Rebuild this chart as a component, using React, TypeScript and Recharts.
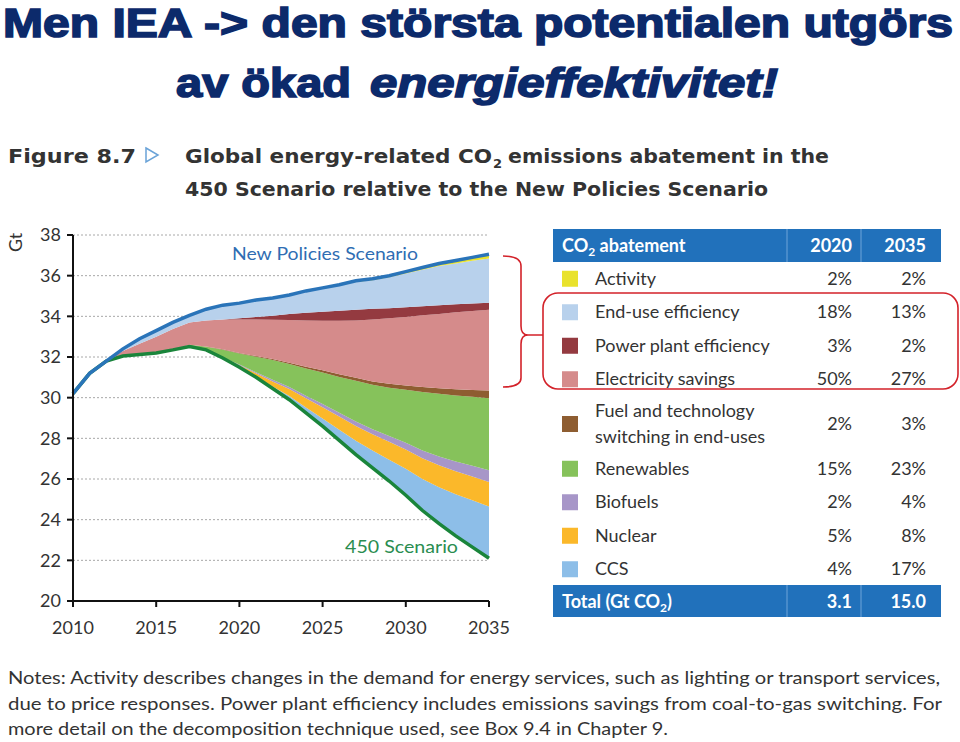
import React from "react";
import {
  ComposedChart,
  Area,
  Line,
  XAxis,
  YAxis,
  CartesianGrid,
} from "recharts";

// years on the x axis
const years = [
  2010, 2011, 2012, 2013, 2014, 2015, 2016, 2017, 2018, 2019, 2020, 2021, 2022,
  2023, 2024, 2025, 2026, 2027, 2028, 2029, 2030, 2031, 2032, 2033, 2034, 2035,
];

// Gt CO2
const scenario450 = [
  30.2, 31.2, 31.8, 32.05, 32.12, 32.2, 32.35, 32.52, 32.35, 31.95, 31.5, 31.0,
  30.45, 29.9, 29.25, 28.6, 27.9, 27.2, 26.55, 25.9, 25.2, 24.45, 23.8, 23.2,
  22.65, 22.1,
];
const newPolicies = [
  30.2, 31.2, 31.8, 32.4, 32.9, 33.3, 33.7, 34.05, 34.35, 34.55, 34.65, 34.8,
  34.9, 35.05, 35.25, 35.4, 35.55, 35.75, 35.85, 36.0, 36.2, 36.4, 36.6, 36.75,
  36.9, 37.05,
];

// abatement wedges (thickness, Gt), bottom to top
const ccs = [
  0, 0, 0, 0, 0, 0, 0, 0, 0, 0, 0.02, 0.05, 0.1, 0.18, 0.27, 0.38, 0.52, 0.68,
  0.85, 1.05, 1.3, 1.55, 1.8, 2.05, 2.3, 2.55,
];
const nuclear = [
  0, 0, 0, 0, 0, 0, 0, 0, 0, 0.02, 0.08, 0.15, 0.25, 0.35, 0.45, 0.55, 0.65,
  0.73, 0.8, 0.88, 0.95, 1.02, 1.08, 1.13, 1.17, 1.2,
];
const biofuels = [
  0, 0, 0, 0, 0, 0, 0, 0, 0, 0.01, 0.03, 0.05, 0.08, 0.1, 0.13, 0.16, 0.19,
  0.22, 0.25, 0.29, 0.33, 0.38, 0.43, 0.48, 0.53, 0.58,
];
const renewables = [
  0, 0, 0, 0, 0, 0, 0, 0.08, 0.16, 0.38, 0.54, 0.76, 0.97, 1.12, 1.33, 1.55,
  1.76, 2.0, 2.18, 2.37, 2.61, 2.88, 3.08, 3.25, 3.39, 3.54,
];
const fuelSwitching = [
  0, 0, 0, 0, 0, 0, 0, 0, 0.01, 0.02, 0.03, 0.04, 0.05, 0.07, 0.09, 0.11, 0.13,
  0.15, 0.17, 0.19, 0.21, 0.24, 0.27, 0.31, 0.34, 0.38,
];
const electricity = [
  0, 0, 0, 0.25, 0.53, 0.8, 1.03, 1.1, 1.28, 1.47, 1.65, 1.8, 1.93, 2.1, 2.28,
  2.43, 2.63, 2.82, 3.05, 3.22, 3.37, 3.53, 3.66, 3.78, 3.88, 3.97,
];
const powerPlant = [
  0, 0, 0, 0, 0, 0, 0, 0, 0, 0, 0.05, 0.12, 0.2, 0.3, 0.38, 0.45, 0.5, 0.52,
  0.52, 0.5, 0.48, 0.45, 0.42, 0.4, 0.37, 0.35,
];
const endUse = [
  0, 0, 0, 0.1, 0.25, 0.3, 0.32, 0.35, 0.55, 0.7, 0.75, 0.83, 0.86, 0.91, 1.04,
  1.13, 1.22, 1.37, 1.41, 1.52, 1.66, 1.79, 1.93, 2.0, 2.1, 2.18,
];
const activity = [
  0, 0, 0, 0, 0, 0, 0, 0, 0, 0, 0, 0, 0.01, 0.02, 0.03, 0.04, 0.05, 0.06, 0.07,
  0.08, 0.09, 0.11, 0.13, 0.15, 0.17, 0.2,
];

// legend / table (top to bottom as in the table)
const wedgeKeys = [
  "activity",
  "endUse",
  "powerPlant",
  "electricity",
  "fuelSwitching",
  "renewables",
  "biofuels",
  "nuclear",
  "ccs",
];
const wedgeNames = [
  ["Activity"],
  ["End-use efficiency"],
  ["Power plant efficiency"],
  ["Electricity savings"],
  ["Fuel and technology", "switching in end-uses"],
  ["Renewables"],
  ["Biofuels"],
  ["Nuclear"],
  ["CCS"],
];
const wedgeColors = [
  "#e9e22c",
  "#b8d1ec",
  "#943a40",
  "#d58b8b",
  "#8e5d31",
  "#86c25b",
  "#a796c8",
  "#fbb82a",
  "#8dbee8",
];
const share2020 = ["2%", "18%", "3%", "50%", "2%", "15%", "2%", "5%", "4%"];
const share2035 = ["2%", "13%", "2%", "27%", "3%", "23%", "4%", "8%", "17%"];
const total2020 = "3.1";
const total2035 = "15.0";

const yTicks = [20, 22, 24, 26, 28, 30, 32, 34, 36, 38];
const xTicks = [2010, 2015, 2020, 2025, 2030, 2035];

const noteLines = [
  "Notes: Activity describes changes in the demand for energy services, such as lighting or transport services,",
  "due to price responses. Power plant efficiency includes emissions savings from coal-to-gas switching. For",
  "more detail on the decomposition technique used, see Box 9.4 in Chapter 9.",
];

const data = years.map((year, i) => ({
  year,
  base: scenario450[i],
  ccs: ccs[i],
  nuclear: nuclear[i],
  biofuels: biofuels[i],
  renewables: renewables[i],
  fuelSwitching: fuelSwitching[i],
  electricity: electricity[i],
  powerPlant: powerPlant[i],
  endUse: endUse[i],
  activity: activity[i],
  s450: scenario450[i],
  nps: newPolicies[i],
}));

const stackOrder = [...wedgeKeys].reverse();

const TXT = "#333";
const BLUE = "#2171bb";
const RED = "#d3222a";
const tickFont = { fontFamily: "Lato", fontSize: 18, fill: TXT };

const AbatementTable = () => {
  const rows: { y: number; h: number }[] = [];
  let y = 262;
  wedgeNames.forEach((n) => {
    const h = n.length > 1 ? 56 : 33.5;
    rows.push({ y, h });
    y += h;
  });
  return (
    <g fontFamily="Lato" fontSize={18}>
      <rect x={553} y={229} width={388} height={33} fill={BLUE} />
      <line x1={787} y1={229} x2={787} y2={262} stroke="#6fa5d9" />
      <line x1={861} y1={229} x2={861} y2={262} stroke="#6fa5d9" />
      <text x={562} y={252} fill="#fff" fontWeight={700}>
        CO<tspan fontSize={12} dy={4}>2</tspan>
        <tspan dy={-4}> abatement</tspan>
      </text>
      <text x={852} y={252} fill="#fff" fontWeight={700} textAnchor="end">
        2020
      </text>
      <text x={926} y={252} fill="#fff" fontWeight={700} textAnchor="end">
        2035
      </text>
      {wedgeNames.map((n, i) => {
        const cy = rows[i].y + rows[i].h / 2;
        return (
          <g key={wedgeKeys[i]}>
            <rect x={562} y={cy - 8} width={16} height={16} fill={wedgeColors[i]} />
            {n.map((line, j) => (
              <text
                key={j}
                x={595}
                y={cy + 6 + (j - (n.length - 1) / 2) * 26}
                fill={TXT}
              >
                {line}
              </text>
            ))}
            <text x={852} y={cy + 6} fill={TXT} textAnchor="end">
              {share2020[i]}
            </text>
            <text x={926} y={cy + 6} fill={TXT} textAnchor="end">
              {share2035[i]}
            </text>
          </g>
        );
      })}
      <rect x={553} y={585} width={388} height={32} fill={BLUE} />
      <line x1={787} y1={585} x2={787} y2={617} stroke="#6fa5d9" />
      <line x1={861} y1={585} x2={861} y2={617} stroke="#6fa5d9" />
      <text x={562} y={608} fill="#fff" fontWeight={700}>
        Total (Gt CO<tspan fontSize={12} dy={4}>2</tspan>
        <tspan dy={-4}>)</tspan>
      </text>
      <text x={852} y={608} fill="#fff" fontWeight={700} textAnchor="end">
        {total2020}
      </text>
      <text x={926} y={608} fill="#fff" fontWeight={700} textAnchor="end">
        {total2035}
      </text>
    </g>
  );
};

export default function App() {
  return (
    <div
      style={{
        position: "fixed",
        left: 0,
        top: 0,
        width: 960,
        height: 742,
        background: "#fff",
        overflow: "hidden",
      }}
    >
      <div style={{ position: "absolute", left: 0, top: 200 }}>
        <ComposedChart
          width={520}
          height={450}
          data={data}
          margin={{ top: 35, right: 31, bottom: 19, left: 28 }}
        >
          <CartesianGrid
            vertical={false}
            stroke="#a8a8a8"
            strokeDasharray="2 2"
          />
          <XAxis
            dataKey="year"
            type="number"
            domain={[2010, 2035]}
            ticks={xTicks}
            height={30}
            tickSize={6}
            tickMargin={14}
            axisLine={{ stroke: "#111", strokeWidth: 2 }}
            tickLine={{ stroke: "#111", strokeWidth: 2 }}
            tick={tickFont}
          />
          <YAxis
            type="number"
            domain={[20, 38]}
            allowDataOverflow={true}
            ticks={yTicks}
            width={45}
            tickSize={6}
            tickMargin={6}
            interval={0}
            axisLine={{ stroke: "#111", strokeWidth: 2 }}
            tickLine={{ stroke: "#111", strokeWidth: 2 }}
            tick={tickFont}
          />
          <Area
            dataKey="base"
            stackId="a"
            type="linear"
            stroke="none"
            fill="none"
            isAnimationActive={false}
          />
          {stackOrder.map((k) => (
            <Area
              key={k}
              dataKey={k}
              stackId="a"
              type="linear"
              stroke="none"
              fill={wedgeColors[wedgeKeys.indexOf(k)]}
              fillOpacity={1}
              isAnimationActive={false}
            />
          ))}
          <Line
            dataKey="s450"
            type="linear"
            stroke="#1a853b"
            strokeWidth={3.5}
            dot={false}
            activeDot={false}
            isAnimationActive={false}
          />
          <Line
            dataKey="nps"
            type="linear"
            stroke="#2a74b9"
            strokeWidth={3.5}
            dot={false}
            activeDot={false}
            isAnimationActive={false}
          />
        </ComposedChart>
      </div>
      <svg
        width={960}
        height={742}
        style={{ position: "absolute", left: 0, top: 0, pointerEvents: "none" }}
      >
        <g
          fill="#0c2a6b"
          stroke="#0c2a6b"
          strokeWidth={1.6}
          fontFamily="Liberation Sans"
          fontWeight={700}
          fontSize={40}
        >
          <text x={3} y={37} textLength={950} lengthAdjust="spacingAndGlyphs">
            Men IEA -&gt; den största potentialen utgörs
          </text>
          <text x={176} y={97} textLength={175} lengthAdjust="spacingAndGlyphs">
            av ökad
          </text>
          <text
            x={370}
            y={97}
            fontStyle="italic"
            textLength={408}
            lengthAdjust="spacingAndGlyphs"
          >
            energieffektivitet!
          </text>
        </g>
        <g fill="#333" fontFamily="DejaVu Sans" fontWeight={700} fontSize={20}>
          <text x={8} y={163} textLength={128} lengthAdjust="spacingAndGlyphs">
            Figure 8.7
          </text>
          <path d="M146 148 L158 155 L146 162 Z" fill="none" stroke="#6aa3d8" strokeWidth={1.5} />
          <text x={185} y={163} textLength={307} lengthAdjust="spacingAndGlyphs">
            Global energy-related CO
          </text>
          <text x={493} y={168} fontSize={13}>
            2
          </text>
          <text x={508} y={163} textLength={321} lengthAdjust="spacingAndGlyphs">
            emissions abatement in the
          </text>
          <text x={185} y={196} textLength={583} lengthAdjust="spacingAndGlyphs">
            450 Scenario relative to the New Policies Scenario
          </text>
        </g>
        <text
          transform="translate(22 252) rotate(-90)"
          fontFamily="Lato"
          fontSize={18}
          fill={TXT}
        >
          Gt
        </text>
        <text x={232} y={260} fontFamily="Lato" fontSize={18} fill="#2f6db3" textLength={186} lengthAdjust="spacingAndGlyphs">
          New Policies Scenario
        </text>
        <text x={345} y={553} fontFamily="Lato" fontSize={18} fill="#2a8d50" textLength={113} lengthAdjust="spacingAndGlyphs">
          450 Scenario
        </text>
        <path
          d="M503 256 Q521 256 521 266 L521 326 Q521 335 528 335 L543 335 M528 335 Q521 335 521 344 L521 378 Q521 387 503 387"
          fill="none"
          stroke={RED}
          strokeWidth={1.6}
        />
        <rect
          x={543}
          y={293}
          width={415}
          height={96}
          rx={15}
          fill="none"
          stroke={RED}
          strokeWidth={1.6}
        />
        <AbatementTable />
        <g fontFamily="Lato" fontSize={17} fill={TXT}>
          {noteLines.map((l, i) => (
            <text
              key={i}
              x={8}
              y={684 + i * 25.5}
              textLength={[932, 934, 660][i]}
              lengthAdjust="spacingAndGlyphs"
            >
              {l}
            </text>
          ))}
        </g>
      </svg>
    </div>
  );
}
